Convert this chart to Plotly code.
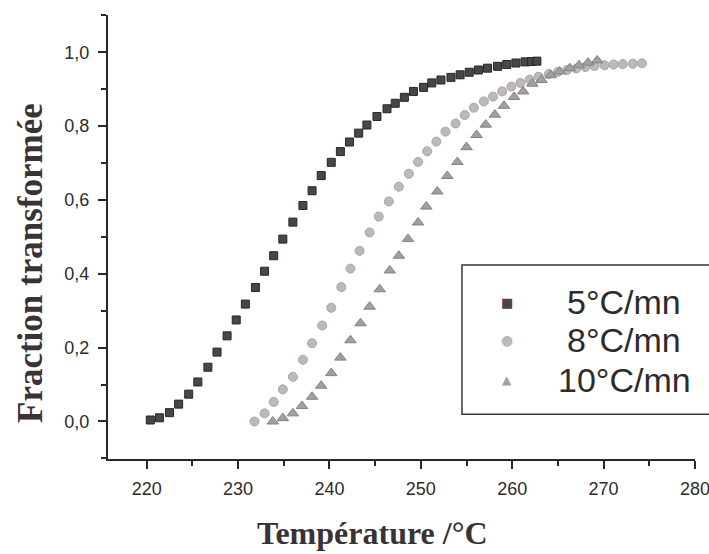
import plotly.graph_objects as go

# ---- data ----
sq_x = [220.4, 221.4, 222.5, 223.5, 224.6, 225.6, 226.7, 227.7, 228.8, 229.8, 230.8, 231.9, 232.9,
        233.9, 234.9, 236.0, 237.1, 238.1, 239.1, 240.2, 241.2, 242.2, 243.2, 244.1, 245.2, 246.3,
        247.2, 248.2, 249.2, 250.3, 251.2, 252.2, 253.3, 254.3, 255.3, 256.3, 257.3, 258.4, 259.4,
        260.4, 261.4, 262.1, 262.7]
sq_y = [0.004, 0.010, 0.024, 0.047, 0.074, 0.107, 0.147, 0.188, 0.232, 0.275, 0.318, 0.363, 0.407,
        0.449, 0.494, 0.540, 0.585, 0.625, 0.666, 0.702, 0.731, 0.757, 0.781, 0.803, 0.826, 0.847,
        0.862, 0.878, 0.894, 0.905, 0.917, 0.925, 0.932, 0.939, 0.946, 0.952, 0.957, 0.962, 0.967,
        0.971, 0.974, 0.975, 0.976]

ci_x = [231.8, 232.9, 233.9, 234.9, 236.0, 237.1, 238.1, 239.2, 240.2, 241.3, 242.3, 243.3, 244.4,
        245.4, 246.5, 247.6, 248.7, 249.7, 250.7, 251.7, 252.7, 253.8, 254.8, 255.8, 256.9, 257.9,
        258.9, 259.9, 260.9, 261.9, 262.9, 264.0, 265.0, 266.0, 267.0, 268.0, 269.0, 270.1, 271.1,
        272.1, 273.2, 274.2]
ci_y = [0.000, 0.022, 0.053, 0.087, 0.121, 0.167, 0.212, 0.260, 0.308, 0.364, 0.414, 0.462, 0.512,
        0.555, 0.596, 0.636, 0.671, 0.703, 0.732, 0.758, 0.785, 0.807, 0.830, 0.850, 0.867, 0.880,
        0.894, 0.907, 0.917, 0.926, 0.934, 0.941, 0.947, 0.952, 0.956, 0.960, 0.963, 0.965, 0.967,
        0.968, 0.969, 0.970]

tr_x = [233.8, 234.9, 236.0, 237.0, 238.1, 239.1, 240.2, 241.2, 242.3, 243.4, 244.4, 245.5, 246.6,
        247.6, 248.6, 249.7, 250.6, 251.8, 252.9, 254.0, 255.0, 256.1, 257.1, 258.1, 259.1, 260.2,
        261.2, 262.2, 263.2, 264.2, 265.2, 266.3, 267.3, 268.3, 269.3]
tr_y = [0.000, 0.009, 0.022, 0.042, 0.067, 0.097, 0.131, 0.173, 0.220, 0.266, 0.311, 0.358, 0.409,
        0.449, 0.494, 0.539, 0.582, 0.623, 0.665, 0.703, 0.743, 0.776, 0.804, 0.831, 0.855, 0.879,
        0.894, 0.915, 0.925, 0.938, 0.948, 0.957, 0.965, 0.972, 0.978]

series_names = ["5°C/mn", "8°C/mn", "10°C/mn"]
legend_glyphs = ["■", "●", "▲"]
x_title = "Température /°C"
y_title = "Fraction transformée"

AX = "#2b2628"
colors = ["#4a4548", "#bdb8ba", "#a39ea0"]
edges = ["#2a2527", "#a9a4a6", "#858082"]

fig = go.Figure()
fig.add_trace(go.Scatter(x=sq_x, y=sq_y, mode="markers", name=series_names[0],
                         marker=dict(symbol="square", size=8, color=colors[0],
                                     line=dict(width=1, color=edges[0]))))
fig.add_trace(go.Scatter(x=ci_x, y=ci_y, mode="markers", name=series_names[1],
                         marker=dict(symbol="circle", size=9, color=colors[1],
                                     line=dict(width=1, color=edges[1]))))
fig.add_trace(go.Scatter(x=tr_x, y=tr_y, mode="markers", name=series_names[2],
                         marker=dict(symbol="triangle-up", size=10, color=colors[2],
                                     line=dict(width=1, color=edges[2]))))

tickfont = dict(family="Liberation Sans, Arial", size=18, color="#2f2a2c")
fig.update_xaxes(range=[215.77, 280.001], showline=True, linewidth=2, linecolor=AX,
                 ticks="outside", ticklen=8, tickwidth=2, tickcolor=AX,
                 tick0=220, dtick=10, tickfont=tickfont, showgrid=False, zeroline=False,
                 minor=dict(ticks="outside", ticklen=5, tickwidth=2, tickcolor=AX, dtick=5, tick0=215),
                 ticklabelstandoff=4, ticklabeloverflow="allow", automargin=False)
fig.update_yaxes(range=[-0.1016, 1.101], showline=True, linewidth=2, linecolor=AX,
                 ticks="outside", ticklen=8, tickwidth=2, tickcolor=AX,
                 tick0=0, dtick=0.2, tickformat=".1f", tickfont=tickfont, showgrid=False,
                 zeroline=False, automargin=False,
                 minor=dict(ticks="outside", ticklen=5, tickwidth=2, tickcolor=AX, dtick=0.1, tick0=0),
                 ticklabelstandoff=5)

# legend box (extends past the right edge like in the scan)
fig.add_shape(type="rect", xref="paper", yref="paper", x0=0.603, x1=1.04, y0=0.101, y1=0.437,
              line=dict(color="#3a3537", width=1.5), fillcolor="rgba(0,0,0,0)", layer="below")

# manual legend entries
PW, PH, L, B = 587.0, 444.0, 108.0, 459.0
def px(xp):
    return (xp - L) / PW
def py(yp):
    return (B - yp) / PH

legend_rows = [302, 340, 380]
glyph_sizes = [13, 14, 12]
for name, glyph, col, gs, row in zip(series_names, legend_glyphs, colors, glyph_sizes, legend_rows):
    fig.add_annotation(text=glyph, xref="paper", yref="paper", x=px(507), y=py(row),
                       xanchor="center", yanchor="middle", showarrow=False,
                       font=dict(family="DejaVu Sans", size=gs, color=col))
    fig.add_annotation(text=name, xref="paper", yref="paper", x=px(624), y=py(row),
                       xanchor="center", yanchor="middle", showarrow=False,
                       font=dict(family="Liberation Sans, Arial", size=34, color="#2f2a2c"))

fig.add_annotation(text=f"<b>{x_title}</b>", xref="paper", yref="paper", x=px(372), y=py(533),
                   xanchor="center", yanchor="middle", showarrow=False,
                   font=dict(family="Liberation Serif, Times New Roman", size=32, color="#3a3335"))
fig.add_annotation(text=f"<b>{y_title}</b>", xref="paper", yref="paper", x=px(30), y=py(263),
                   xanchor="center", yanchor="middle", textangle=-90, showarrow=False,
                   font=dict(family="Liberation Serif, Times New Roman", size=35, color="#3a3335"))

fig.update_layout(
    width=709, height=554, separators=", ",
    margin=dict(l=108, r=14, t=15, b=95, autoexpand=False),
    paper_bgcolor="white", plot_bgcolor="white",
    showlegend=False,
)

fig.write_html("out.html")
